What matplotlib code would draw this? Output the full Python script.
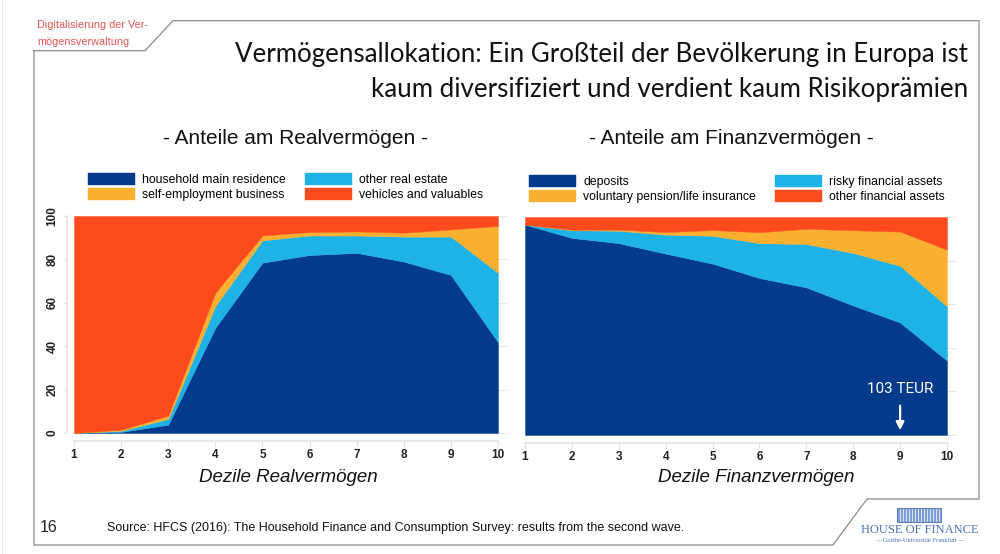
import matplotlib
matplotlib.use('Agg')
import matplotlib.pyplot as plt
from matplotlib.lines import Line2D
from matplotlib.patches import Rectangle
import numpy as np

# deciles
deciles = [1, 2, 3, 4, 5, 6, 7, 8, 9, 10]

# shares of real assets (%)
main_residence = [0, 0.5, 3.8, 48.5, 78.5, 82, 83, 79, 72.8, 41.8]
other_real_estate = [0, 0.5, 2.7, 10, 10.3, 9, 8, 11.5, 17.7, 32]
self_employment = [0, 0.5, 1.5, 6.1, 2.2, 1.6, 1.9, 1.8, 3.3, 21.6]
vehicles = [100, 98.5, 92, 35.4, 9, 7.4, 7.1, 7.7, 6.2, 4.6]

# shares of financial assets (%)
deposits = [96.5, 90.4, 88, 83.2, 78.6, 72, 67.7, 59.4, 51.6, 34.1]
risky_assets = [0, 3.5, 5.7, 8.7, 12.8, 16, 19.9, 24.1, 26, 24.9]
pension = [0, 0.3, 0.5, 1.2, 2.6, 5, 7, 10.4, 15.7, 26]
other_fin = [3.5, 5.8, 5.8, 6.9, 6, 7, 5.4, 6.1, 6.7, 15]

real_labels = ['household main residence', 'other real estate',
               'self-employment business', 'vehicles and valuables']
fin_labels = ['deposits', 'risky financial assets',
              'voluntary pension/life insurance', 'other financial assets']
yticks = [0, 20, 40, 60, 80, 100]

c_navy = '#043a8c'
c_sky = '#1fb2e6'
c_gold = '#fbb030'
c_red = '#fd4b1e'
colors = [c_navy, c_sky, c_gold, c_red]

W, H = 1000, 554
fig = plt.figure(figsize=(10, 5.54), dpi=100)

def fx(px):
    return px / W

def fy(py):
    return 1 - py / H

sans = ['Liberation Sans', 'DejaVu Sans']

# page frame
frame = [(34, 50.7), (34, 545), (833, 545), (867, 499), (979, 499),
         (979, 20.7), (173, 20.7), (145, 50.7), (34, 50.7)]
fig.add_artist(Line2D([fx(p[0]) for p in frame], [fy(p[1]) for p in frame],
                      color='#8a8a8a', lw=0.9, transform=fig.transFigure))
fig.add_artist(Line2D([fx(2), fx(2)], [0, 1], color='#e4e4e4', lw=0.8,
                      transform=fig.transFigure))

fig.text(fx(37), fy(25), 'Digitalisierung der Ver-', color='#e05555',
         fontsize=7.8, family=sans, va='center')
fig.text(fx(37), fy(42), 'mögensverwaltung', color='#e05555',
         fontsize=7.8, family=sans, va='center')

fig.text(fx(968), fy(54), 'Vermögensallokation: Ein Großteil der Bevölkerung in Europa ist',
         ha='right', va='center', fontsize=18.6, family=['Lato', 'DejaVu Sans'], color='#111111')
fig.text(fx(968), fy(90), 'kaum diversifiziert und verdient kaum Risikoprämien',
         ha='right', va='center', fontsize=18.6, family=['Lato', 'DejaVu Sans'], color='#111111')

fig.text(fx(295), fy(139), '- Anteile am Realvermögen -', ha='center', va='center',
         fontsize=15, family=sans, color='#111111')
fig.text(fx(731), fy(139), '- Anteile am Finanzvermögen -', ha='center', va='center',
         fontsize=15, family=sans, color='#111111')

ax1 = fig.add_axes([fx(74), fy(433), fx(498 - 74), (433 - 216) / H])
ax2 = fig.add_axes([fx(525), fy(435), fx(947 - 525), (435 - 217) / H])

ax1.stackplot(deciles, main_residence, other_real_estate, self_employment, vehicles,
              colors=colors, labels=real_labels, edgecolor='face', linewidth=0.3)
ax2.stackplot(deciles, deposits, risky_assets, pension, other_fin,
              colors=colors, labels=fin_labels, edgecolor='face', linewidth=0.3)

for ax in (ax1, ax2):
    ax.set_xlim(1, 10)
    ax.set_ylim(0, 100)
    ax.set_xticks(deciles)
    ax.set_yticks(yticks)
    for s in ('top', 'right'):
        ax.spines[s].set_visible(False)
    ax.spines['bottom'].set_position(('outward', 6))
    ax.spines['bottom'].set_color('#e2e2e2')
    ax.spines['bottom'].set_linewidth(1.2)
    ax.tick_params(axis='x', length=4, width=0.8, color='#e2e2e2', pad=1.5,
                   labelsize=8.5, labelcolor='#222222')
    for lab in ax.get_xticklabels():
        lab.set_fontweight('bold')
        lab.set_family(sans)
    ax.hlines(yticks, 10, 10.2, colors='#e6e6e6', lw=0.8, clip_on=False, zorder=0)

ax1.spines['left'].set_position(('outward', 5))
ax1.spines['left'].set_color('#e2e2e2')
ax1.spines['left'].set_linewidth(1.2)
ax1.tick_params(axis='y', length=3, width=0.8, color='#e2e2e2', pad=3,
                labelsize=8.5, labelcolor='#222222', labelrotation=90)
for lab in ax1.get_yticklabels():
    lab.set_fontweight('bold')
    lab.set_family(sans)
    lab.set_va('center')

ax2.spines['left'].set_visible(False)
ax2.tick_params(axis='y', left=False, labelleft=False)

ax1.set_xlabel('Dezile Realvermögen', fontsize=13.5, style='italic', family=sans,
               color='#111111')
ax2.set_xlabel('Dezile Finanzvermögen', fontsize=13.5, style='italic', family=sans,
               color='#111111')
ax1.xaxis.set_label_coords((288 - 74) / 424, -(478 - 433) / 217)
ax2.xaxis.set_label_coords((756 - 525) / 422, -(478 - 435) / 218)
for ax in (ax1, ax2):
    ax.xaxis.label.set_va('center')

# legends: row-wise order
order = [0, 2, 1, 3]
leg_kw = dict(ncol=2, frameon=False, loc='lower left',
              prop={'family': sans, 'size': 8.8},
              handlelength=3.85, handleheight=1.15, handletextpad=0.57,
              columnspacing=1.6, labelspacing=0.15, borderpad=0, borderaxespad=0)
h1, l1 = ax1.get_legend_handles_labels()
ax1.legend([h1[i] for i in order], [l1[i] for i in order],
           bbox_to_anchor=((88 - 74) / 424, 1 + 15 / 217), **leg_kw)
h2, l2 = ax2.get_legend_handles_labels()
ax2.legend([h2[i] for i in order], [l2[i] for i in order],
           bbox_to_anchor=((529 - 525) / 422, 1 + 14 / 218), **leg_kw)

ax2.text(9, 21, '103 TEUR', color='white', ha='center', va='center',
         fontsize=11, family=['Roboto', 'DejaVu Sans'])
ax2.annotate('', xy=(9, 0.9), xytext=(9, 14.7),
             arrowprops=dict(arrowstyle='-|>', color='white', lw=1.6,
                             mutation_scale=12))

# footer
fig.text(fx(49), fy(528), '16', ha='center', va='center', fontsize=11.5,
         family=sans, color='#222222')
fig.text(fx(107), fy(528),
         'Source: HFCS (2016): The Household Finance and Consumption Survey: results from the second wave.',
         ha='left', va='center', fontsize=9, family=sans, color='#111111')

# logo
logo_blue = '#4b6fb5'
fig.add_artist(Rectangle((fx(897), fy(522)), fx(44), (522 - 508) / H,
                         facecolor='#7e9fd6', edgecolor=logo_blue, lw=0.6,
                         transform=fig.transFigure))
for xl in np.arange(900, 940, 3):
    fig.add_artist(Line2D([fx(xl), fx(xl)], [fy(521), fy(509)], color='white',
                          lw=0.5, transform=fig.transFigure))
fig.text(fx(920), fy(530), 'HOUSE OF FINANCE', ha='center', va='center',
         fontsize=9, family=['Liberation Serif', 'DejaVu Serif'], color=logo_blue)
fig.text(fx(920), fy(540), '— Goethe-Universität Frankfurt —', ha='center', va='center',
         fontsize=4.5, family=['Liberation Serif', 'DejaVu Serif'], color=logo_blue)

fig.savefig('out.png', dpi=100)
